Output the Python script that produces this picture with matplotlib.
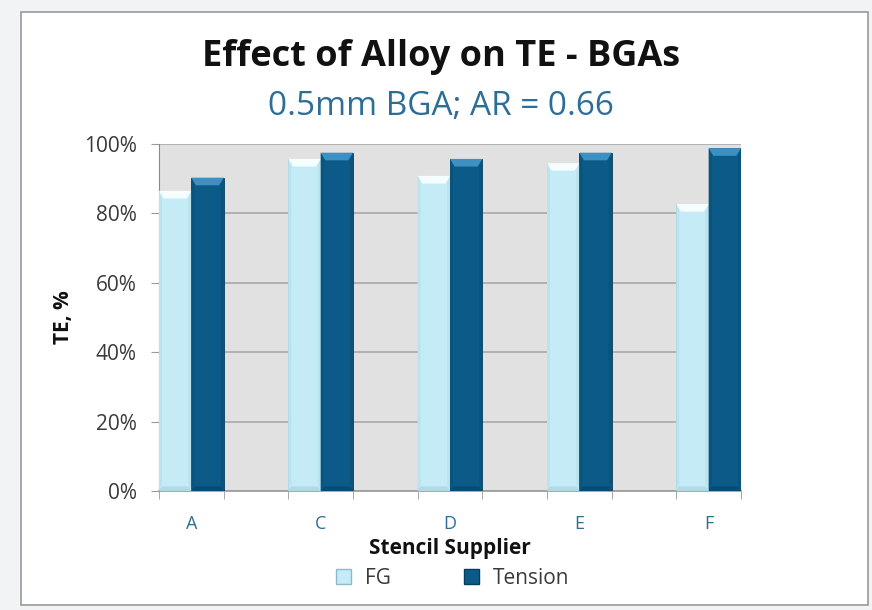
import matplotlib
matplotlib.use("Agg")
import matplotlib.pyplot as plt
from matplotlib.patches import Rectangle, Patch, Polygon
from matplotlib.ticker import FuncFormatter, MultipleLocator
import numpy as np

suppliers = ["A", "C", "D", "E", "F"]
fg = [86.5, 95.7, 90.8, 94.5, 82.7]
tension = [90.3, 97.5, 95.7, 97.5, 98.8]

FG_COL = "#c4ebf6"
TEN_COL = "#0b5a87"
TXT = "#3a3a3a"
BLUE_TXT = "#2d6e96"
# bevel facet colours: top, sides, bottom
FACETS = {FG_COL: ("#f6fdff", "#b8e3ef", "#b0dae6"),
          TEN_COL: ("#3f90c2", "#09537d", "#084c73")}

plt.rcParams["font.family"] = ["Open Sans", "DejaVu Sans"]

fig = plt.figure(figsize=(8.72, 6.10), dpi=100)
fig.patch.set_facecolor("#f1f3f5")
fig.patches.append(Rectangle((21 / 872, 5 / 610), 847 / 872, 593 / 610, transform=fig.transFigure,
                             facecolor="white", edgecolor="#9a9a9a", lw=1.2, zorder=-5))

ax = fig.add_axes([159 / 872, 1 - 491 / 610, 582 / 872, 347 / 610])
ax.set_facecolor("#e1e1e1")

x = np.arange(len(suppliers))
w = 0.25
bars_fg = ax.bar(x - w / 2, fg, width=w, color=FG_COL, edgecolor="#9fc9d6", lw=0.6, zorder=3, label="FG")
bars_ten = ax.bar(x + w / 2, tension, width=w, color=TEN_COL, edgecolor="#063d5e", lw=0.6, zorder=3,
                  label="Tension")


def bevel(bars, col):
    top, side, bot = FACETS[col]
    for b in bars:
        x0, x1, h = b.get_x(), b.get_x() + b.get_width(), b.get_height()
        dx, dy = b.get_width() * 0.09, 2.2
        ax.add_patch(Polygon([(x0, 0), (x0, h), (x0 + dx, h - dy), (x0 + dx, dy)],
                             facecolor=side, lw=0, zorder=4))
        ax.add_patch(Polygon([(x1, 0), (x1, h), (x1 - dx, h - dy), (x1 - dx, dy)],
                             facecolor=side, lw=0, zorder=4))
        ax.add_patch(Polygon([(x0, 0), (x1, 0), (x1 - dx, dy * 0.6), (x0 + dx, dy * 0.6)],
                             facecolor=bot, lw=0, zorder=4))
        ax.add_patch(Polygon([(x0, h), (x1, h), (x1 - dx * 1.6, h - dy), (x0 + dx * 1.6, h - dy)],
                             facecolor=top, lw=0, zorder=5))


bevel(bars_fg, FG_COL)
bevel(bars_ten, TEN_COL)

ax.set_xlim(-0.25, len(suppliers) - 0.75)
ax.set_ylim(0, 100)
ax.yaxis.set_major_locator(MultipleLocator(20))
ax.yaxis.set_major_formatter(FuncFormatter(lambda v, p: f"{v:.0f}%"))
ax.grid(axis="y", color="#a4a4a4", lw=1.1, zorder=1)

ax.set_xticks(x)
ax.set_xticklabels(suppliers)
ax.set_xticks(np.concatenate([x - 0.25, x + 0.25]), minor=True)
ax.tick_params(axis="x", which="major", length=0, pad=17, labelsize=13, labelcolor=BLUE_TXT)
ax.tick_params(axis="x", which="minor", length=6, color="#9a9a9a", direction="out")
ax.tick_params(axis="y", length=6, color="#9a9a9a", labelsize=15, labelcolor=TXT, pad=10)

for s in ["top", "right"]:
    ax.spines[s].set_visible(False)
ax.spines["left"].set_color("#8a8a8a")
ax.spines["bottom"].set_color("#9a9a9a")
ax.spines["bottom"].set_linewidth(1.2)

ax.set_xlabel("Stencil Supplier", fontsize=15, fontweight="bold", color="#111111", labelpad=4)
ax.set_ylabel("TE, %", fontsize=15, fontweight="bold", color="#111111", labelpad=7)

fig.text(441 / 872, 1 - 57 / 610, "Effect of Alloy on TE - BGAs", ha="center", va="center",
         fontsize=26, fontweight="bold", color="#111111")
fig.text(441 / 872, 1 - 106 / 610, "0.5mm BGA; AR = 0.66", ha="center", va="center",
         fontsize=24, color=BLUE_TXT)

handles = [Patch(facecolor=FG_COL, edgecolor="#8fb9c6"), Patch(facecolor=TEN_COL, edgecolor="#063d5e")]
fig.legend(handles, ["FG", "Tension"], loc="center", bbox_to_anchor=(453 / 872, 1 - 578 / 610),
           ncol=2, frameon=False, fontsize=15, labelcolor=TXT, handlelength=0.7, handleheight=0.7,
           columnspacing=3.5, handletextpad=0.7)

fig.savefig("out.png", dpi=100, facecolor=fig.get_facecolor())
